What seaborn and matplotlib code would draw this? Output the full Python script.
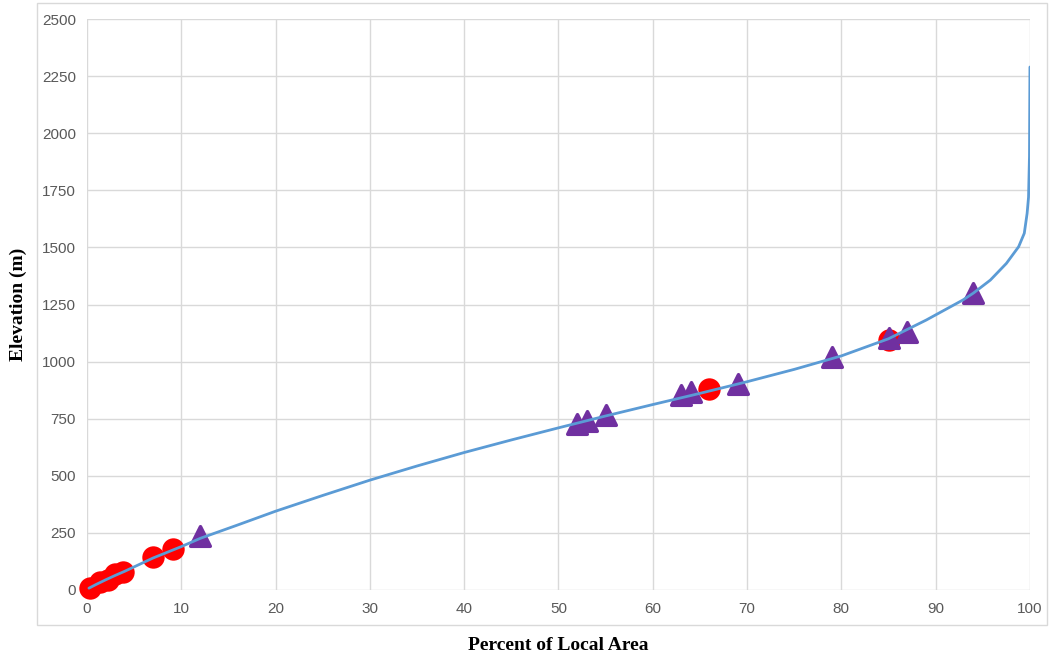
import matplotlib
matplotlib.use("Agg")
import matplotlib.pyplot as plt
from matplotlib.patches import Rectangle
import seaborn as sns
import pandas as pd

# Hypsometric curve: cumulative percent of area vs elevation
curve_pct = [0.2, 1, 2, 3, 4, 7, 10, 12, 16, 20, 25, 30, 35, 40, 45, 50, 55,
             60, 65, 70, 75, 80, 85, 89, 92.9, 94, 95.8, 97.5, 98.8, 99.4,
             99.7, 99.85, 99.95, 100]
curve_elev = [8, 25, 45, 64, 82, 140, 190, 226, 285, 345, 414, 481, 543, 602,
              657, 710, 762, 812, 861, 912, 966, 1025, 1100, 1182, 1270, 1300,
              1357, 1430, 1503, 1562, 1649, 1720, 1900, 2290]

# Sites shown as circles
circle_pct = [0.3, 1.4, 2.2, 3.0, 3.8, 7.0, 9.1, 66, 85]
circle_elev = [10, 35, 44, 72, 80, 145, 178, 880, 1095]

# Sites shown as triangles
tri_pct = [12, 52, 53, 55, 63, 64, 69, 79, 85, 87, 94]
tri_elev = [238, 728, 738, 768, 855, 868, 900, 1020, 1105, 1130, 1300]

x_ticks = list(range(0, 101, 10))
y_ticks = list(range(0, 2501, 250))

sns.set_theme(style="white")
plt.rcParams["font.family"] = ["Liberation Sans", "DejaVu Sans"]

fig = plt.figure(figsize=(10.5, 6.57), dpi=100)
ax = fig.add_axes([0.0829, 0.102, 0.898, 0.869])

curve = pd.DataFrame({"pct": curve_pct, "elev": curve_elev})
circles = pd.DataFrame({"pct": circle_pct, "elev": circle_elev})
tris = pd.DataFrame({"pct": tri_pct, "elev": tri_elev})

sns.scatterplot(data=circles, x="pct", y="elev", ax=ax, marker="o", s=260,
                color="#FF0000", edgecolor="#FF0000", linewidth=0, zorder=3,
                clip_on=False)
sns.scatterplot(data=tris, x="pct", y="elev", ax=ax, marker="^", s=200,
                color="#7030A0", edgecolor="#7030A0", linewidth=2.5, zorder=4,
                clip_on=False)
sns.lineplot(data=curve, x="pct", y="elev", ax=ax, color="#5B9BD5",
             linewidth=2, zorder=5, sort=False)

ax.set_xlim(0, 100)
ax.set_ylim(0, 2500)
ax.set_xticks(x_ticks)
ax.set_yticks(y_ticks)
ax.grid(True, color="#D9D9D9", linewidth=1)
for s in ax.spines.values():
    s.set_visible(False)
ax.tick_params(axis="both", length=0, labelsize=11, colors="#595959")
ax.tick_params(axis="x", pad=9)
ax.tick_params(axis="y", pad=8)

ax.set_xlabel("Percent of Local Area", family="Liberation Serif",
              fontweight="bold", fontsize=14, color="black")
ax.set_ylabel("Elevation (m)", family="Liberation Serif",
              fontweight="bold", fontsize=14, color="black")
ax.xaxis.set_label_coords(0.5, -0.082)
ax.yaxis.set_label_coords(-0.0636, 0.5)

fig.patches.append(Rectangle((37 / 1050, 1 - 625 / 657), 1010 / 1050, 622 / 657,
                             transform=fig.transFigure, fill=False,
                             edgecolor="#D9D9D9", linewidth=1, zorder=0))

fig.savefig("out.png", dpi=100)
